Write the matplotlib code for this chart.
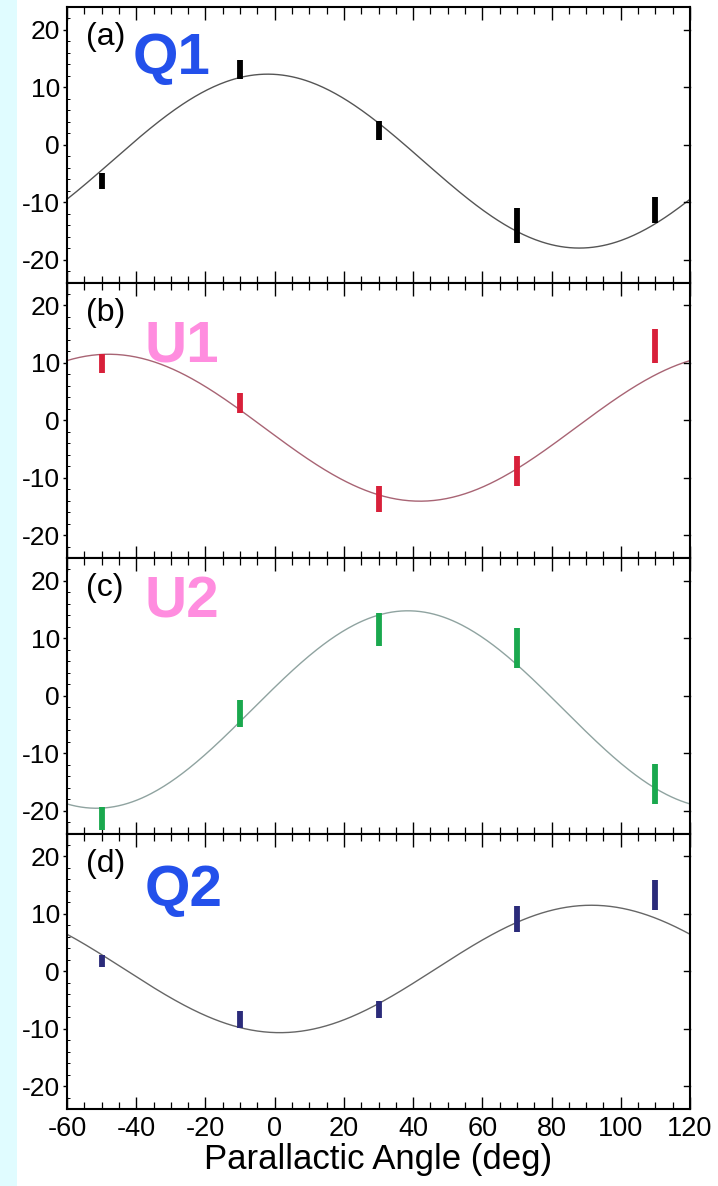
import matplotlib
matplotlib.use("Agg")
import matplotlib.pyplot as plt
import numpy as np
from matplotlib.patches import Rectangle
from matplotlib.ticker import MultipleLocator

plt.rcParams['font.family'] = ['Liberation Sans', 'DejaVu Sans']
plt.rcParams['axes.unicode_minus'] = False

# parallactic angles of the measurements (deg)
angles = [-50, -10, 30, 70, 110]

# measured values and half error bars per panel
q1_vals = [-6.3, 13.1, 2.5, -14.1, -11.4]
q1_errs = [1.4, 1.6, 1.6, 3.0, 2.3]
u1_vals = [9.9, 3.0, -13.7, -8.8, 12.9]
u1_errs = [1.6, 1.7, 2.2, 2.6, 3.0]
u2_vals = [-21.4, -3.1, 11.5, 8.3, -15.4]
u2_errs = [2.0, 2.4, 2.9, 3.5, 3.5]
q2_vals = [1.8, -8.4, -6.7, 9.1, 13.3]
q2_errs = [1.1, 1.45, 1.45, 2.3, 2.55]

# fitted cos(2*angle) model: offset, amplitude, angle of maximum (deg)
fit_offset = [-2.85, -1.3, -2.4, 0.4]
fit_amp = [15.15, 12.8, 17.2, 11.1]
fit_peak = [-2.0, -48.0, 38.5, 91.5]

panel_tags = ['(a)', '(b)', '(c)', '(d)']
big_names = ['Q1', 'U1', 'U2', 'Q2']
big_colors = ['#2350eb', '#ff8ddf', '#ff8ddf', '#2350eb']
bar_colors = ['black', '#d8203a', '#1aa84e', '#2b2b7a']
curve_colors = ['#555555', '#a86474', '#8fa3a0', '#666666']

values = [q1_vals, u1_vals, u2_vals, q2_vals]
errors = [q1_errs, u1_errs, u2_errs, q2_errs]

W, H = 718, 1186
fig, axes = plt.subplots(4, 1, figsize=(W / 100, H / 100), dpi=100, sharex=True)
fig.subplots_adjust(left=67 / W, right=690 / W, top=1 - 7 / H, bottom=1 - 1109 / H, hspace=0)

# light cyan strip on the left edge
fig.patches.append(Rectangle((0, 0), 17 / W, 1, transform=fig.transFigure,
                             facecolor='#e0fcff', edgecolor='none', zorder=-10))

theta = np.linspace(-60, 120, 400)
for i, ax in enumerate(axes):
    model = fit_offset[i] + fit_amp[i] * np.cos(np.radians(2 * (theta - fit_peak[i])))
    ax.plot(theta, model, color=curve_colors[i], linewidth=1.0, zorder=2)
    ax.errorbar(angles, values[i], yerr=errors[i], fmt='none',
                ecolor=bar_colors[i], elinewidth=4.2, capsize=0, zorder=3)

    ax.set_xlim(-60, 120)
    ax.set_ylim(-24, 24)
    ax.xaxis.set_major_locator(MultipleLocator(20))
    ax.xaxis.set_minor_locator(MultipleLocator(5))
    ax.yaxis.set_major_locator(MultipleLocator(10))
    ax.yaxis.set_minor_locator(MultipleLocator(2))
    ax.tick_params(axis='x', which='major', direction='in', top=True, bottom=True,
                   length=9, width=1.0, labelsize=19.5, pad=5)
    ax.tick_params(axis='x', which='minor', direction='in', top=True, bottom=True,
                   length=5, width=0.9)
    ax.tick_params(axis='y', which='major', direction='out', left=True, right=False,
                   length=3, width=1.0, labelsize=19, pad=2)
    ax.tick_params(axis='y', which='minor', direction='in', left=True, right=False,
                   length=2.5, width=0.7)
    for side in ['top', 'bottom', 'left', 'right']:
        ax.spines[side].set_linewidth(1.5)

    # short inward ticks on the right spine at major positions
    for yv in [-20, -10, 0, 10, 20]:
        ax.plot([1.0, 0.99], [yv, yv], color='black', linewidth=1.0,
                transform=ax.get_yaxis_transform(), clip_on=False)

    ax.text(0.03, 0.945, panel_tags[i], transform=ax.transAxes, fontsize=23,
            ha='left', va='top')

axes[-1].set_xlabel('Parallactic Angle (deg)', fontsize=25, labelpad=1)

big_pos = [(133, 74), (145, 362), (145, 618), (145, 906)]
for name, col, (px, py) in zip(big_names, big_colors, big_pos):
    fig.text(px / W, 1 - py / H, name, color=col, fontsize=42, fontweight='bold',
             ha='left', va='baseline')

fig.savefig('out.png', dpi=100)
